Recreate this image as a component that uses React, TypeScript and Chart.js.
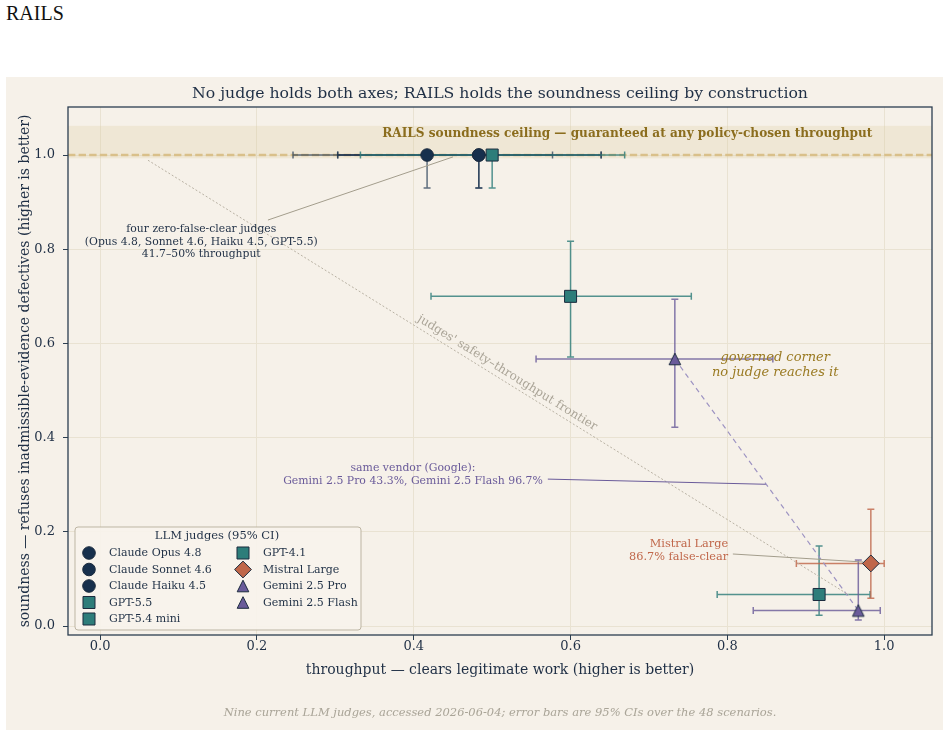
import React, { useEffect, useRef } from "react";
import { Chart, registerables } from "chart.js";

Chart.register(...registerables);
Chart.defaults.font.family = "'DejaVu Serif', serif";

// ---------- data ----------
const judges = [
  "Claude Opus 4.8",
  "Claude Sonnet 4.6",
  "Claude Haiku 4.5",
  "GPT-5.5",
  "GPT-5.4 mini",
  "GPT-4.1",
  "Mistral Large",
  "Gemini 2.5 Pro",
  "Gemini 2.5 Flash",
];
const families = ["claude", "claude", "claude", "gpt", "gpt", "gpt", "mistral", "gemini", "gemini"];
const throughput = [0.417, 0.483, 0.483, 0.5, 0.6, 0.917, 0.983, 0.733, 0.967];
const throughputLo = [0.246, 0.303, 0.303, 0.332, 0.422, 0.787, 0.888, 0.556, 0.833];
const throughputHi = [0.577, 0.639, 0.639, 0.669, 0.754, 0.982, 1.0, 0.858, 0.995];
const soundness = [1.0, 1.0, 1.0, 1.0, 0.7, 0.067, 0.133, 0.567, 0.033];
const soundnessLo = [0.93, 0.93, 0.93, 0.93, 0.571, 0.023, 0.059, 0.422, 0.013];
const soundnessHi = [1.0, 1.0, 1.0, 1.0, 0.817, 0.17, 0.248, 0.694, 0.14];
const xTicks = [0, 0.2, 0.4, 0.6, 0.8, 1.0];
const yTicks = [0, 0.2, 0.4, 0.6, 0.8, 1.0];
const frontierThroughput = [0.061, 0.955];
const frontierSoundness = [0.989, 0.066];
const ceilingValue = 1.0;
const ceilingBand = [0.993, 1.062];

const titleText = "No judge holds both axes; RAILS holds the soundness ceiling by construction";
const xTitle = "throughput \u2014 clears legitimate work (higher is better)";
const yTitle = "soundness \u2014 refuses inadmissible-evidence defectives (higher is better)";
const captionText =
  "Nine current LLM judges, accessed 2026-06-04; error bars are 95% CIs over the 48 scenarios.";
const ceilingText = "RAILS soundness ceiling \u2014 guaranteed at any policy-chosen throughput";
const frontierText = "judges' safety\u2013throughput frontier";
const legendTitle = "LLM judges (95% CI)";

// ---------- styles ----------
const INK = "#1f2f45";
const EDGE = "#1c2b3e";
const familyStyle: Record<string, any> = {
  claude: { fill: "#17304d", shape: "circle", r: 6.3, bar: "rgba(23,48,77,0.68)" },
  gpt: { fill: "#2e7d7a", shape: "rect", r: 8.5, bar: "rgba(46,125,122,0.82)" },
  mistral: { fill: "#c0674a", shape: "rectRot", r: 8.4, bar: "rgba(192,103,74,0.82)" },
  gemini: { fill: "#6a5b9a", shape: "triangle", r: 5.8, bar: "rgba(106,91,154,0.82)" },
};

const annotations = [
  {
    lines: ["four zero-false-clear judges", "(Opus 4.8, Sonnet 4.6, Haiku 4.5, GPT-5.5)", "41.7\u201350% throughput"],
    x: 0.129, y: 0.815, align: "center", font: "10.8px 'DejaVu Serif', serif", color: INK, lh: 12.5,
    leader: [0.214, 0.862, 0.45, 0.996], leaderColor: "#a39d8c",
  },
  {
    lines: ["same vendor (Google):", "Gemini 2.5 Pro 43.3%, Gemini 2.5 Flash 96.7%"],
    x: 0.399, y: 0.3217, align: "center", font: "10.9px 'DejaVu Serif', serif", color: "#6a5b9a", lh: 13,
    leader: [0.571, 0.312, 0.849, 0.301], leaderColor: "#6a5b9a",
  },
  {
    lines: ["Mistral Large", "86.7% false-clear"],
    x: 0.801, y: 0.1603, align: "right", font: "11.3px 'DejaVu Serif', serif", color: "#c0674a", lh: 13,
    leader: [0.807, 0.153, 0.973, 0.136], leaderColor: "#a39d8c",
  },
  {
    lines: ["governed corner", "no judge reaches it"],
    x: 0.861, y: 0.5531, align: "center", font: "italic 13px 'DejaVu Serif', serif", color: "#9a7a22", lh: 15,
    leader: null, leaderColor: "",
  },
];

function drawMarker(ctx: CanvasRenderingContext2D, shape: string, x: number, y: number, r: number, fill: string) {
  ctx.save();
  ctx.beginPath();
  if (shape === "circle") {
    ctx.arc(x, y, r, 0, Math.PI * 2);
  } else if (shape === "rect") {
    const h = r * Math.SQRT1_2;
    ctx.rect(x - h, y - h, 2 * h, 2 * h);
  } else if (shape === "rectRot") {
    ctx.moveTo(x, y - r);
    ctx.lineTo(x + r, y);
    ctx.lineTo(x, y + r);
    ctx.lineTo(x - r, y);
    ctx.closePath();
  } else {
    ctx.moveTo(x, y - r);
    ctx.lineTo(x + r, y + r);
    ctx.lineTo(x - r, y + r);
    ctx.closePath();
  }
  ctx.fillStyle = fill;
  ctx.fill();
  ctx.lineWidth = 1;
  ctx.strokeStyle = EDGE;
  ctx.stroke();
  ctx.restore();
}

function makeTriangleCanvas(r: number, fill: string) {
  const c = document.createElement("canvas");
  const s = Math.ceil(2 * r + 4);
  c.width = s;
  c.height = s;
  const cx = c.getContext("2d")!;
  drawMarker(cx, "triangle", s / 2, s / 2, r, fill);
  return c;
}

const overlayPlugin = {
  id: "railsOverlay",
  beforeDatasetsDraw(chart: any) {
    const { ctx, chartArea, scales } = chart;
    const xs = scales.x;
    const ys = scales.y;
    ctx.save();
    ctx.beginPath();
    ctx.rect(chartArea.left, chartArea.top, chartArea.right - chartArea.left, chartArea.bottom - chartArea.top);
    ctx.clip();
    // ceiling band
    const bt = ys.getPixelForValue(ceilingBand[1]);
    const bb = ys.getPixelForValue(ceilingBand[0]);
    ctx.fillStyle = "rgba(222,205,160,0.26)";
    ctx.fillRect(chartArea.left, bt, chartArea.right - chartArea.left, bb - bt);
    // ceiling dashed line
    const cy = ys.getPixelForValue(ceilingValue);
    ctx.beginPath();
    ctx.setLineDash([7.4, 3.2]);
    ctx.strokeStyle = "#d9c08a";
    ctx.lineWidth = 2.4;
    ctx.moveTo(chartArea.left, cy);
    ctx.lineTo(chartArea.right, cy);
    ctx.stroke();
    ctx.setLineDash([]);
    // error bars
    const cap = 3.5;
    judges.forEach((_, i) => {
      const st = familyStyle[families[i]];
      const px = xs.getPixelForValue(throughput[i]);
      const py = ys.getPixelForValue(soundness[i]);
      const x0 = xs.getPixelForValue(throughputLo[i]);
      const x1 = xs.getPixelForValue(throughputHi[i]);
      const y0 = ys.getPixelForValue(soundnessLo[i]);
      const y1 = ys.getPixelForValue(soundnessHi[i]);
      ctx.strokeStyle = st.bar;
      ctx.lineWidth = 1.5;
      ctx.beginPath();
      ctx.moveTo(x0, py);
      ctx.lineTo(x1, py);
      ctx.moveTo(x0, py - cap);
      ctx.lineTo(x0, py + cap);
      ctx.moveTo(x1, py - cap);
      ctx.lineTo(x1, py + cap);
      ctx.stroke();
      ctx.beginPath();
      ctx.moveTo(px, y0);
      ctx.lineTo(px, y1);
      ctx.moveTo(px - cap, y0);
      ctx.lineTo(px + cap, y0);
      ctx.moveTo(px - cap, y1);
      ctx.lineTo(px + cap, y1);
      ctx.stroke();
    });
    ctx.restore();
  },
  afterDatasetsDraw(chart: any) {
    const { ctx, chartArea, scales } = chart;
    const xs = scales.x;
    const ys = scales.y;
    const midX = (chartArea.left + chartArea.right) / 2;
    ctx.save();

    // title and caption, centred on the plot area
    ctx.textAlign = "center";
    ctx.textBaseline = "middle";
    ctx.font = "15.7px 'DejaVu Serif', serif";
    ctx.fillStyle = INK;
    ctx.fillText(titleText, midX, 17);
    ctx.font = "italic 11.5px 'DejaVu Serif', serif";
    ctx.fillStyle = "#a9a497";
    ctx.fillText(captionText, midX, chart.height - 17);

    // ceiling text
    ctx.font = "bold 12.1px 'DejaVu Serif', serif";
    ctx.fillStyle = "#8b6d1e";
    ctx.textAlign = "right";
    ctx.fillText(ceilingText, xs.getPixelForValue(0.985), ys.getPixelForValue(1.045));

    // frontier label
    const p0x = xs.getPixelForValue(frontierThroughput[0]);
    const p0y = ys.getPixelForValue(frontierSoundness[0]);
    const p1x = xs.getPixelForValue(frontierThroughput[1]);
    const p1y = ys.getPixelForValue(frontierSoundness[1]);
    const ang = Math.atan2(p1y - p0y, p1x - p0x);
    const t = 0.506;
    const d = 8.6;
    const fx = p0x + (p1x - p0x) * t + Math.sin(ang) * d;
    const fy = p0y + (p1y - p0y) * t - Math.cos(ang) * d;
    ctx.save();
    ctx.translate(fx, fy);
    ctx.rotate(ang);
    ctx.font = "12px 'DejaVu Serif', serif";
    ctx.fillStyle = "#aaa497";
    ctx.textAlign = "center";
    ctx.textBaseline = "middle";
    ctx.fillText(frontierText, 0, 0);
    ctx.restore();

    // annotations
    annotations.forEach((a) => {
      if (a.leader) {
        ctx.beginPath();
        ctx.strokeStyle = a.leaderColor;
        ctx.lineWidth = 1;
        ctx.moveTo(xs.getPixelForValue(a.leader[0]), ys.getPixelForValue(a.leader[1]));
        ctx.lineTo(xs.getPixelForValue(a.leader[2]), ys.getPixelForValue(a.leader[3]));
        ctx.stroke();
      }
      ctx.font = a.font;
      ctx.fillStyle = a.color;
      ctx.textAlign = a.align as CanvasTextAlign;
      ctx.textBaseline = "middle";
      const ax = xs.getPixelForValue(a.x);
      const ay = ys.getPixelForValue(a.y);
      const n = a.lines.length;
      a.lines.forEach((ln, k) => {
        ctx.fillText(ln, ax, ay + (k - (n - 1) / 2) * a.lh);
      });
    });

    // legend
    const lw = 286;
    const lh = 103;
    const lx = chartArea.left + 7;
    const ly = chartArea.bottom - 5 - lh;
    ctx.beginPath();
    const rr = 3;
    ctx.moveTo(lx + rr, ly);
    ctx.arcTo(lx + lw, ly, lx + lw, ly + lh, rr);
    ctx.arcTo(lx + lw, ly + lh, lx, ly + lh, rr);
    ctx.arcTo(lx, ly + lh, lx, ly, rr);
    ctx.arcTo(lx, ly, lx + lw, ly, rr);
    ctx.closePath();
    ctx.fillStyle = "rgba(247,243,235,0.92)";
    ctx.fill();
    ctx.strokeStyle = "#bdb5a3";
    ctx.lineWidth = 1;
    ctx.stroke();
    ctx.font = "11.5px 'DejaVu Serif', serif";
    ctx.fillStyle = INK;
    ctx.textAlign = "center";
    ctx.textBaseline = "middle";
    ctx.fillText(legendTitle, lx + 142, ly + 9.5);
    ctx.font = "11px 'DejaVu Serif', serif";
    ctx.textAlign = "left";
    judges.forEach((name, i) => {
      const col = i < 5 ? 0 : 1;
      const row = i < 5 ? i : i - 5;
      const mx = lx + (col === 0 ? 14 : 168);
      const my = ly + 26 + row * 16.5;
      const st = familyStyle[families[i]];
      drawMarker(ctx, st.shape, mx, my, st.r, st.fill);
      ctx.fillStyle = INK;
      ctx.fillText(name, mx + 20, my + 0.5);
    });

    // plot frame
    ctx.strokeStyle = "#2c3e50";
    ctx.lineWidth = 1.3;
    ctx.strokeRect(chartArea.left, chartArea.top, chartArea.right - chartArea.left, chartArea.bottom - chartArea.top);
    ctx.restore();
  },
};

export default function App() {
  const ref = useRef<HTMLCanvasElement | null>(null);

  useEffect(() => {
    if (!ref.current) return;
    const judgeSets = judges.map((name, i) => {
      const st = familyStyle[families[i]];
      const pointStyle = st.shape === "triangle" ? makeTriangleCanvas(st.r, st.fill) : st.shape;
      return {
        label: name,
        data: [{ x: throughput[i], y: soundness[i] }],
        pointStyle,
        pointRadius: st.r,
        pointHoverRadius: st.r,
        backgroundColor: st.fill,
        borderColor: EDGE,
        borderWidth: 1,
        showLine: false,
      };
    });
    const frontierSet = {
      label: "frontier",
      data: frontierThroughput.map((v, k) => ({ x: v, y: frontierSoundness[k] })),
      showLine: true,
      pointRadius: 0,
      borderColor: "#b8b1a3",
      borderWidth: 1,
      borderDash: [2, 2],
      backgroundColor: "transparent",
    };
    const geminiLink = {
      label: "gemini-link",
      data: [7, 8].map((k) => ({ x: throughput[k], y: soundness[k] })),
      showLine: true,
      pointRadius: 0,
      borderColor: "#9d93c2",
      borderWidth: 1.2,
      borderDash: [5, 4],
      backgroundColor: "transparent",
    };

    const chart = new Chart(ref.current, {
      type: "scatter",
      data: { datasets: [...judgeSets, frontierSet, geminiLink] as any },
      options: {
        animation: false,
        responsive: false,
        devicePixelRatio: 1,
        layout: { padding: { left: 0, right: 11, top: 30, bottom: 24 } },
        plugins: {
          legend: { display: false },
          tooltip: { enabled: false },
          title: { display: false },
          subtitle: { display: false },
        },
        scales: {
          x: {
            type: "linear",
            min: -0.041,
            max: 1.061,
            afterBuildTicks: (s: any) => {
              s.ticks = xTicks.map((v) => ({ value: v }));
            },
            afterFit: (s: any) => {
              s.height = 71;
            },
            ticks: {
              callback: (v: any) => Number(v).toFixed(1),
              color: INK,
              font: { size: 13 },
              padding: -1,
              maxRotation: 0,
            },
            grid: { color: "#e9e2d2", lineWidth: 1, tickLength: 5, tickColor: "#2c3e50", tickWidth: 1 },
            border: { display: false },
            title: {
              display: true,
              text: xTitle,
              color: INK,
              font: { size: 14 },
              padding: { top: 4, bottom: 27 },
            },
          },
          y: {
            type: "linear",
            min: -0.019,
            max: 1.102,
            afterBuildTicks: (s: any) => {
              s.ticks = yTicks.map((v) => ({ value: v }));
            },
            afterFit: (s: any) => {
              s.width = 62;
            },
            ticks: {
              callback: (v: any) => Number(v).toFixed(1),
              color: INK,
              font: { size: 13 },
              padding: 8,
            },
            grid: { color: "#e9e2d2", lineWidth: 1, tickLength: 5, tickColor: "#2c3e50", tickWidth: 1 },
            border: { display: false },
            title: {
              display: true,
              text: yTitle,
              color: INK,
              font: { size: 14 },
              padding: { top: 11, bottom: 0 },
            },
          },
        },
      } as any,
      plugins: [overlayPlugin],
    });
    return () => chart.destroy();
  }, []);

  return (
    <div style={{ position: "absolute", left: 0, top: 0, width: 949, height: 736 }}>
      <div
        style={{
          position: "absolute",
          left: 6,
          top: 2,
          fontFamily: "'Liberation Serif', 'Times New Roman', serif",
          fontSize: 20,
          color: "#111",
        }}
      >
        RAILS
      </div>
      <div
        style={{
          position: "absolute",
          left: 6,
          top: 77,
          width: 937,
          height: 653,
          background: "#f6f1e9",
        }}
      >
        <canvas ref={ref} width={937} height={653} style={{ display: "block", width: 937, height: 653 }} />
      </div>
    </div>
  );
}
